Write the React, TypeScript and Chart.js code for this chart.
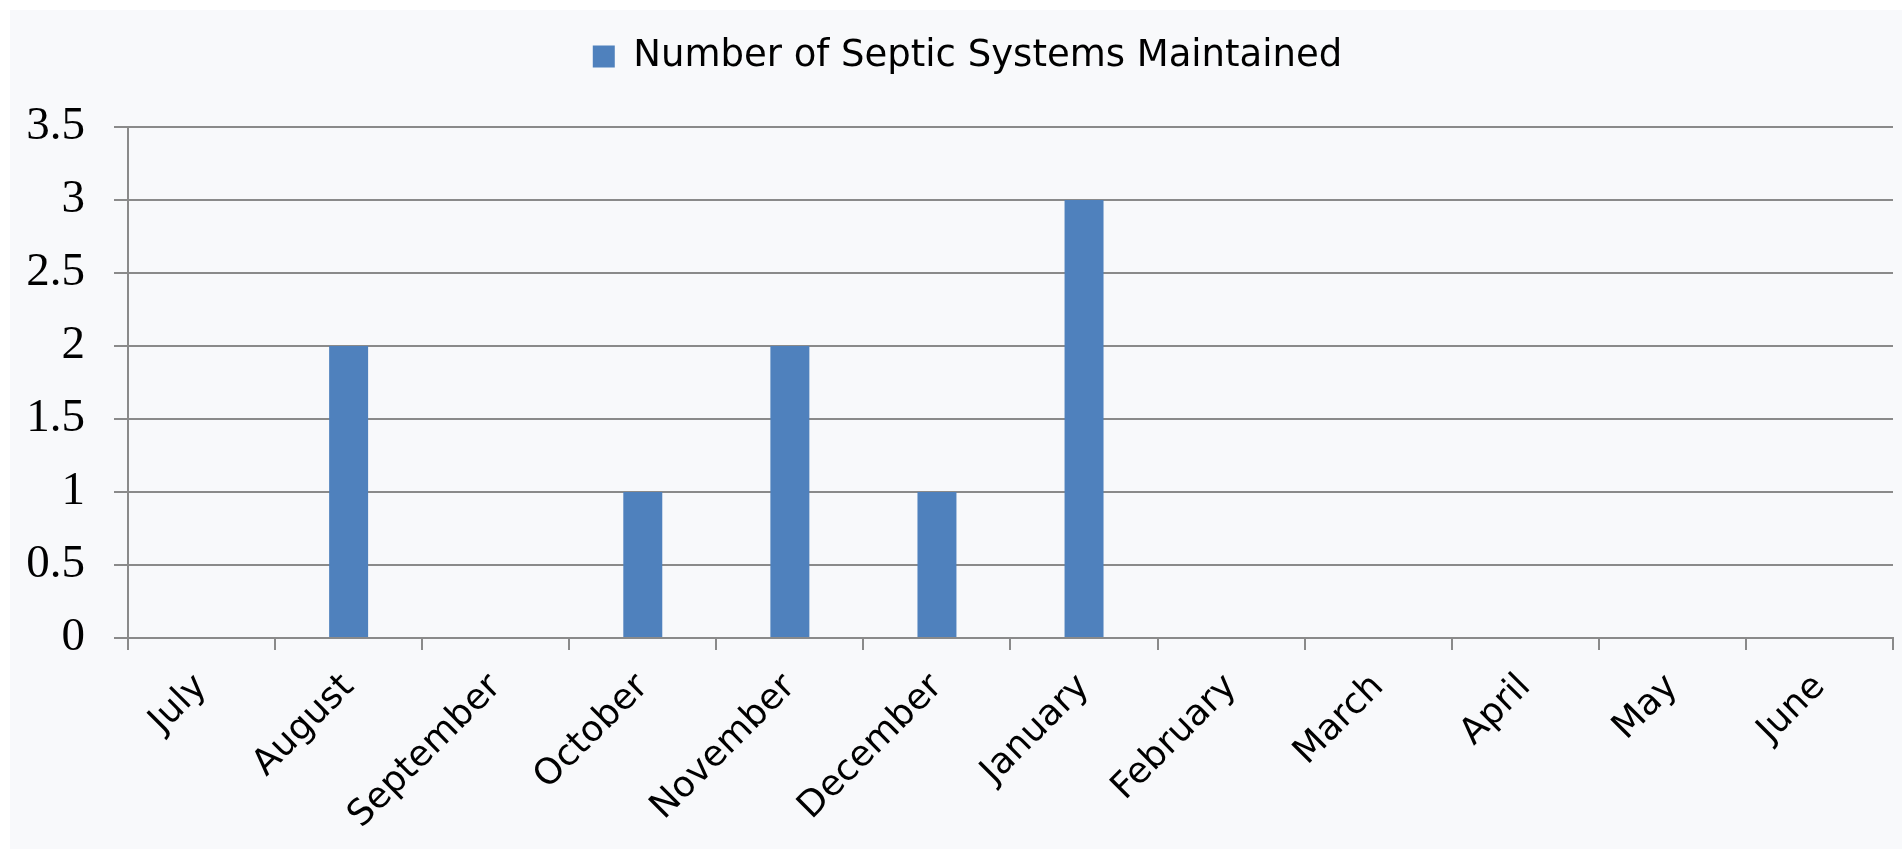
import React, { useEffect, useRef } from "react";
import { Chart, registerables } from "chart.js";

Chart.register(...registerables);

const categories = [
  "July", "August", "September", "October", "November", "December",
  "January", "February", "March", "April", "May", "June",
];
const seriesLabel = "Number of Septic Systems Maintained";
const seriesValues = [0, 2, 0, 1, 2, 1, 3, 0, 0, 0, 0, 0];
const yMin = 0;
const yMax = 3.5;
const yStep = 0.5;

const BAR_COLOR = "#4F81BD";
const GRID_COLOR = "#8a8a8a";
const PANEL_BG = "#F8F9FB";

export default function App() {
  const canvasRef = useRef<HTMLCanvasElement | null>(null);

  useEffect(() => {
    const canvas = canvasRef.current;
    if (!canvas) return;

    const legendFit = {
      id: "legendFit",
      beforeInit(chart: any) {
        const legend = chart.legend;
        if (legend && !legend.__patched) {
          legend.__patched = true;
          const origFit = legend.fit.bind(legend);
          legend.fit = function () {
            origFit();
            this.height = 117;
          };
          const origDraw = legend.draw.bind(legend);
          legend.draw = function () {
            const ctx = chart.ctx;
            ctx.save();
            ctx.translate(16, 0);
            origDraw();
            ctx.restore();
          };
        }
      },
    };

    const chart = new Chart(canvas, {
      type: "bar",
      data: {
        labels: categories,
        datasets: [
          {
            label: seriesLabel,
            data: seriesValues,
            backgroundColor: BAR_COLOR,
            borderWidth: 0,
            barPercentage: 0.265,
            categoryPercentage: 1,
          },
        ],
      },
      options: {
        animation: false,
        responsive: false,
        devicePixelRatio: 1,
        layout: { padding: { left: 0, right: 9, top: 0, bottom: 0 } },
        plugins: {
          legend: {
            display: true,
            position: "top",
            labels: {
              boxWidth: 22,
              boxHeight: 22,
              padding: 28,
              color: "#000",
              font: { family: "'DejaVu Sans', Verdana, sans-serif", size: 37 },
            },
          },
          tooltip: { enabled: false },
        },
        scales: {
          x: {
            offset: true,
            grid: {
              offset: true,
              drawOnChartArea: false,
              drawTicks: true,
              tickLength: 12,
              color: GRID_COLOR,
              lineWidth: 2,
            },
            border: { display: true, color: GRID_COLOR, width: 2 },
            ticks: {
              autoSkip: false,
              maxRotation: 45,
              minRotation: 45,
              padding: 16,
              color: "#000",
              font: { family: "'DejaVu Sans', Verdana, sans-serif", size: 36 },
            },
            afterFit(scale: any) {
              scale.height = 211;
            },
          },
          y: {
            min: yMin,
            max: yMax,
            ticks: {
              stepSize: yStep,
              padding: 29,
              color: "#000",
              font: { family: "'Liberation Serif', 'Times New Roman', serif", size: 47 },
              callback: (value: any) => String(Number(value)),
            },
            grid: {
              drawOnChartArea: true,
              drawTicks: true,
              tickLength: 14,
              color: GRID_COLOR,
              lineWidth: 2,
            },
            border: { display: true, color: GRID_COLOR, width: 2 },
            afterFit(scale: any) {
              scale.width = 118;
            },
          },
        },
      },
      plugins: [legendFit],
    });

    return () => {
      chart.destroy();
    };
  }, []);

  return (
    <div
      style={{
        position: "absolute",
        left: 0,
        top: 0,
        width: 1902,
        height: 849,
        background: "#ffffff",
        overflow: "hidden",
      }}
    >
      <div
        style={{
          position: "absolute",
          left: 10,
          top: 10,
          width: 1892,
          height: 839,
          background: PANEL_BG,
        }}
      >
        <canvas
          ref={canvasRef}
          width={1892}
          height={839}
          style={{ display: "block", width: 1892, height: 839 }}
        />
      </div>
    </div>
  );
}
